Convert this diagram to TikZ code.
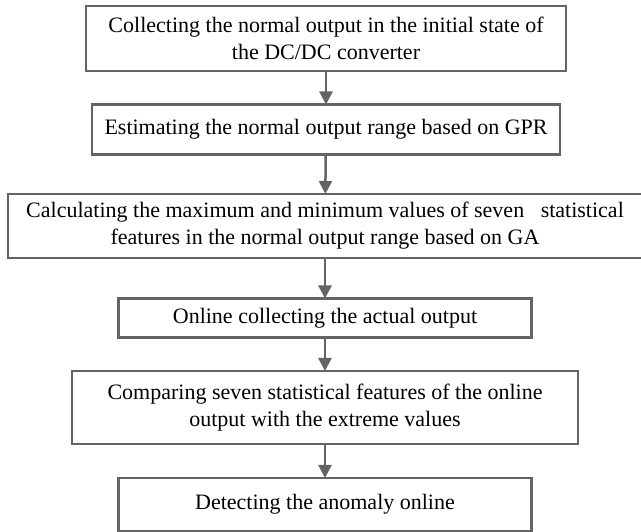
\documentclass[tikz,border=0pt]{standalone}
\usepackage{fontspec}
\setmainfont{Liberation Serif}
\usetikzlibrary{positioning}
\usetikzlibrary{arrows.meta}
\definecolor{linegray}{RGB}{100,100,100}

\begin{document}
\begin{tikzpicture}[x=1pt, y=1pt,
                    every node/.append style={font=\fontsize{22}{27}\selectfont},
                    stepbox/.style={rectangle, draw=linegray, line width=2.5pt, align=center, inner sep=0pt, outer sep=0pt},
                    flow/.style={draw=linegray, line width=2.5pt, -{Triangle[length=13pt, width=13pt]}},
                    node distance=30pt]
    \useasboundingbox (0,0) rectangle (641,532);

    \node [stepbox, minimum width=480pt, minimum height=65pt] (collect) at (326,493.5)
        {Collecting the normal output in the initial state of\\the DC/DC converter};
    \node [stepbox, minimum width=468pt, minimum height=50pt, below=33.5pt of collect] (estimate)
        {Estimating the normal output range based on GPR};
    \node [stepbox, minimum width=634pt, minimum height=64pt, below=39.5pt of estimate, xshift=-1pt] (calc)
        {Calculating the maximum and minimum values of seven~~~statistical\\features in the normal output range based on GA};
    \node [stepbox, minimum width=413pt, minimum height=39pt, below=40.5pt of calc] (online)
        {Online collecting the actual output};
    \node [stepbox, minimum width=506pt, minimum height=73pt, below=33.5pt of online] (compare)
        {Comparing seven statistical features of the online\\output with the extreme values};
    \node [stepbox, minimum width=413pt, minimum height=53pt, below=34pt of compare] (detect)
        {Detecting the anomaly online};

    % Draw the arrows
    \draw [flow] (collect)  -- (estimate);
    \draw [flow] (estimate) -- (calc);
    \draw [flow] (calc)     -- (online);
    \draw [flow] (online)   -- (compare);
    \draw [flow] (compare)  -- (detect);
\end{tikzpicture}
\end{document}
